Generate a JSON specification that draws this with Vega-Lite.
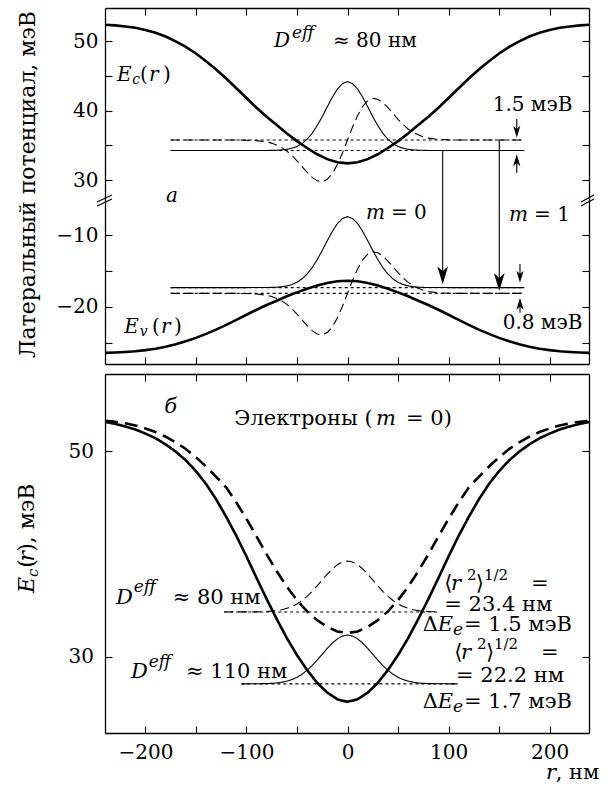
{
  "$schema": "https://vega.github.io/schema/vega-lite/v6.json",
  "padding": {"left": 15, "top": 7, "right": 5, "bottom": 5},
  "config": {
    "view": {"stroke": null},
    "axis": {"domainColor": "#000", "domainWidth": 1.3, "tickColor": "#000", "tickWidth": 1.1, "tickSize": -7, "labelFont": "DejaVu Serif", "labelFontSize": 20, "labelColor": "#000", "labelPadding": 14, "grid": false},
    "text": {"font": "DejaVu Serif", "color": "#000"}
  },
  "datasets": {
    "upper": [
      {"c":"Ec","r":-240,"v":52.35},{"c":"Ec","r":-230,"v":52.25},{"c":"Ec","r":-220,"v":52.1},{"c":"Ec","r":-210,"v":51.9},{"c":"Ec","r":-200,"v":51.6},{"c":"Ec","r":-190,"v":51.2},{"c":"Ec","r":-180,"v":50.65},{"c":"Ec","r":-170,"v":49.95},{"c":"Ec","r":-160,"v":49.15},{"c":"Ec","r":-150,"v":48.2},{"c":"Ec","r":-140,"v":47.1},{"c":"Ec","r":-130,"v":45.9},{"c":"Ec","r":-120,"v":44.6},{"c":"Ec","r":-110,"v":43.2},{"c":"Ec","r":-100,"v":41.8},{"c":"Ec","r":-90,"v":40.4},{"c":"Ec","r":-80,"v":39.1},{"c":"Ec","r":-70,"v":37.9},{"c":"Ec","r":-60,"v":36.7},{"c":"Ec","r":-50,"v":35.6},{"c":"Ec","r":-40,"v":34.6},{"c":"Ec","r":-30,"v":33.7},{"c":"Ec","r":-20,"v":33.0},{"c":"Ec","r":-10,"v":32.55},{"c":"Ec","r":0,"v":32.4},{"c":"Ec","r":10,"v":32.55},{"c":"Ec","r":20,"v":33.0},{"c":"Ec","r":30,"v":33.7},{"c":"Ec","r":40,"v":34.6},{"c":"Ec","r":50,"v":35.6},{"c":"Ec","r":60,"v":36.7},{"c":"Ec","r":70,"v":37.9},{"c":"Ec","r":80,"v":39.1},{"c":"Ec","r":90,"v":40.4},{"c":"Ec","r":100,"v":41.8},{"c":"Ec","r":110,"v":43.2},{"c":"Ec","r":120,"v":44.6},{"c":"Ec","r":130,"v":45.9},{"c":"Ec","r":140,"v":47.1},{"c":"Ec","r":150,"v":48.2},{"c":"Ec","r":160,"v":49.15},{"c":"Ec","r":170,"v":49.95},{"c":"Ec","r":180,"v":50.65},{"c":"Ec","r":190,"v":51.2},{"c":"Ec","r":200,"v":51.6},{"c":"Ec","r":210,"v":51.9},{"c":"Ec","r":220,"v":52.1},{"c":"Ec","r":230,"v":52.25},{"c":"Ec","r":240,"v":52.35},
      {"c":"psi_e0","r":-175,"v":34.25},{"c":"psi_e0","r":-80,"v":34.25},{"c":"psi_e0","r":-70,"v":34.29},{"c":"psi_e0","r":-65,"v":34.33},{"c":"psi_e0","r":-60,"v":34.42},{"c":"psi_e0","r":-55,"v":34.57},{"c":"psi_e0","r":-50,"v":34.83},{"c":"psi_e0","r":-45,"v":35.25},{"c":"psi_e0","r":-40,"v":35.86},{"c":"psi_e0","r":-35,"v":36.72},{"c":"psi_e0","r":-30,"v":37.82},{"c":"psi_e0","r":-25,"v":39.12},{"c":"psi_e0","r":-20,"v":40.54},{"c":"psi_e0","r":-15,"v":41.92},{"c":"psi_e0","r":-10,"v":43.09},{"c":"psi_e0","r":-5,"v":43.87},{"c":"psi_e0","r":0,"v":44.15},{"c":"psi_e0","r":5,"v":43.87},{"c":"psi_e0","r":10,"v":43.09},{"c":"psi_e0","r":15,"v":41.92},{"c":"psi_e0","r":20,"v":40.54},{"c":"psi_e0","r":25,"v":39.12},{"c":"psi_e0","r":30,"v":37.82},{"c":"psi_e0","r":35,"v":36.72},{"c":"psi_e0","r":40,"v":35.86},{"c":"psi_e0","r":45,"v":35.25},{"c":"psi_e0","r":50,"v":34.83},{"c":"psi_e0","r":55,"v":34.57},{"c":"psi_e0","r":60,"v":34.42},{"c":"psi_e0","r":65,"v":34.33},{"c":"psi_e0","r":70,"v":34.29},{"c":"psi_e0","r":80,"v":34.25},{"c":"psi_e0","r":175,"v":34.25},
      {"c":"psi_e1","r":-175,"v":35.75},{"c":"psi_e1","r":-110,"v":35.75},{"c":"psi_e1","r":-100,"v":35.73},{"c":"psi_e1","r":-90,"v":35.66},{"c":"psi_e1","r":-80,"v":35.48},{"c":"psi_e1","r":-75,"v":35.31},{"c":"psi_e1","r":-70,"v":35.0},{"c":"psi_e1","r":-65,"v":34.66},{"c":"psi_e1","r":-60,"v":34.16},{"c":"psi_e1","r":-55,"v":33.52},{"c":"psi_e1","r":-50,"v":32.76},{"c":"psi_e1","r":-45,"v":31.92},{"c":"psi_e1","r":-40,"v":31.09},{"c":"psi_e1","r":-35,"v":30.37},{"c":"psi_e1","r":-30,"v":29.88},{"c":"psi_e1","r":-25,"v":29.76},{"c":"psi_e1","r":-20,"v":30.09},{"c":"psi_e1","r":-15,"v":30.92},{"c":"psi_e1","r":-10,"v":32.22},{"c":"psi_e1","r":-5,"v":33.88},{"c":"psi_e1","r":0,"v":35.75},{"c":"psi_e1","r":5,"v":37.62},{"c":"psi_e1","r":10,"v":39.28},{"c":"psi_e1","r":15,"v":40.58},{"c":"psi_e1","r":20,"v":41.41},{"c":"psi_e1","r":25,"v":41.74},{"c":"psi_e1","r":30,"v":41.62},{"c":"psi_e1","r":35,"v":41.13},{"c":"psi_e1","r":40,"v":40.41},{"c":"psi_e1","r":45,"v":39.58},{"c":"psi_e1","r":50,"v":38.74},{"c":"psi_e1","r":55,"v":37.98},{"c":"psi_e1","r":60,"v":37.34},{"c":"psi_e1","r":65,"v":36.84},{"c":"psi_e1","r":70,"v":36.5},{"c":"psi_e1","r":75,"v":36.2},{"c":"psi_e1","r":80,"v":36.02},{"c":"psi_e1","r":90,"v":35.84},{"c":"psi_e1","r":100,"v":35.77},{"c":"psi_e1","r":110,"v":35.75},{"c":"psi_e1","r":175,"v":35.75},
      {"c":"lev_e0","r":-175,"v":34.25},{"c":"lev_e0","r":175,"v":34.25},
      {"c":"lev_e1","r":-175,"v":35.75},{"c":"lev_e1","r":175,"v":35.75},
      {"c":"tr_m0","r":94.2,"v":34.25},{"c":"tr_m0","r":94.2,"v":27.41},
      {"c":"tr_m1","r":150.2,"v":35.75},{"c":"tr_m1","r":150.2,"v":27.41},
      {"c":"gap_top","r":167.5,"v":38.78},{"c":"gap_top","r":167.5,"v":36.95},
      {"c":"gap_bot","r":167.5,"v":31.05},{"c":"gap_bot","r":167.5,"v":32.83}
    ],
    "lower": [
      {"c":"Ev","r":-240,"v":-26.4},{"c":"Ev","r":-230,"v":-26.35},{"c":"Ev","r":-220,"v":-26.27},{"c":"Ev","r":-210,"v":-26.17},{"c":"Ev","r":-200,"v":-26.02},{"c":"Ev","r":-190,"v":-25.82},{"c":"Ev","r":-180,"v":-25.54},{"c":"Ev","r":-170,"v":-25.19},{"c":"Ev","r":-160,"v":-24.79},{"c":"Ev","r":-150,"v":-24.31},{"c":"Ev","r":-140,"v":-23.75},{"c":"Ev","r":-130,"v":-23.15},{"c":"Ev","r":-120,"v":-22.49},{"c":"Ev","r":-110,"v":-21.79},{"c":"Ev","r":-100,"v":-21.08},{"c":"Ev","r":-90,"v":-20.38},{"c":"Ev","r":-80,"v":-19.72},{"c":"Ev","r":-70,"v":-19.12},{"c":"Ev","r":-60,"v":-18.51},{"c":"Ev","r":-50,"v":-17.96},{"c":"Ev","r":-40,"v":-17.45},{"c":"Ev","r":-30,"v":-17.0},{"c":"Ev","r":-20,"v":-16.65},{"c":"Ev","r":-10,"v":-16.42},{"c":"Ev","r":0,"v":-16.35},{"c":"Ev","r":10,"v":-16.42},{"c":"Ev","r":20,"v":-16.65},{"c":"Ev","r":30,"v":-17.0},{"c":"Ev","r":40,"v":-17.45},{"c":"Ev","r":50,"v":-17.96},{"c":"Ev","r":60,"v":-18.51},{"c":"Ev","r":70,"v":-19.12},{"c":"Ev","r":80,"v":-19.72},{"c":"Ev","r":90,"v":-20.38},{"c":"Ev","r":100,"v":-21.08},{"c":"Ev","r":110,"v":-21.79},{"c":"Ev","r":120,"v":-22.49},{"c":"Ev","r":130,"v":-23.15},{"c":"Ev","r":140,"v":-23.75},{"c":"Ev","r":150,"v":-24.31},{"c":"Ev","r":160,"v":-24.79},{"c":"Ev","r":170,"v":-25.19},{"c":"Ev","r":180,"v":-25.54},{"c":"Ev","r":190,"v":-25.82},{"c":"Ev","r":200,"v":-26.02},{"c":"Ev","r":210,"v":-26.17},{"c":"Ev","r":220,"v":-26.27},{"c":"Ev","r":230,"v":-26.35},{"c":"Ev","r":240,"v":-26.4},
      {"c":"psi_h0","r":-175,"v":-17.3},{"c":"psi_h0","r":-80,"v":-17.29},{"c":"psi_h0","r":-70,"v":-17.24},{"c":"psi_h0","r":-65,"v":-17.17},{"c":"psi_h0","r":-60,"v":-17.06},{"c":"psi_h0","r":-55,"v":-16.87},{"c":"psi_h0","r":-50,"v":-16.55},{"c":"psi_h0","r":-45,"v":-16.08},{"c":"psi_h0","r":-40,"v":-15.4},{"c":"psi_h0","r":-35,"v":-14.51},{"c":"psi_h0","r":-30,"v":-13.39},{"c":"psi_h0","r":-25,"v":-12.11},{"c":"psi_h0","r":-20,"v":-10.75},{"c":"psi_h0","r":-15,"v":-9.45},{"c":"psi_h0","r":-10,"v":-8.37},{"c":"psi_h0","r":-5,"v":-7.65},{"c":"psi_h0","r":0,"v":-7.4},{"c":"psi_h0","r":5,"v":-7.65},{"c":"psi_h0","r":10,"v":-8.37},{"c":"psi_h0","r":15,"v":-9.45},{"c":"psi_h0","r":20,"v":-10.75},{"c":"psi_h0","r":25,"v":-12.11},{"c":"psi_h0","r":30,"v":-13.39},{"c":"psi_h0","r":35,"v":-14.51},{"c":"psi_h0","r":40,"v":-15.4},{"c":"psi_h0","r":45,"v":-16.08},{"c":"psi_h0","r":50,"v":-16.55},{"c":"psi_h0","r":55,"v":-16.87},{"c":"psi_h0","r":60,"v":-17.06},{"c":"psi_h0","r":65,"v":-17.17},{"c":"psi_h0","r":70,"v":-17.24},{"c":"psi_h0","r":80,"v":-17.29},{"c":"psi_h0","r":175,"v":-17.3},
      {"c":"psi_h1","r":-175,"v":-18.1},{"c":"psi_h1","r":-110,"v":-18.1},{"c":"psi_h1","r":-100,"v":-18.12},{"c":"psi_h1","r":-90,"v":-18.18},{"c":"psi_h1","r":-80,"v":-18.36},{"c":"psi_h1","r":-75,"v":-18.53},{"c":"psi_h1","r":-70,"v":-18.82},{"c":"psi_h1","r":-65,"v":-19.15},{"c":"psi_h1","r":-60,"v":-19.64},{"c":"psi_h1","r":-55,"v":-20.26},{"c":"psi_h1","r":-50,"v":-20.99},{"c":"psi_h1","r":-45,"v":-21.8},{"c":"psi_h1","r":-40,"v":-22.61},{"c":"psi_h1","r":-35,"v":-23.3},{"c":"psi_h1","r":-30,"v":-23.77},{"c":"psi_h1","r":-25,"v":-23.89},{"c":"psi_h1","r":-20,"v":-23.57},{"c":"psi_h1","r":-15,"v":-22.77},{"c":"psi_h1","r":-10,"v":-21.52},{"c":"psi_h1","r":-5,"v":-19.91},{"c":"psi_h1","r":0,"v":-18.1},{"c":"psi_h1","r":5,"v":-16.3},{"c":"psi_h1","r":10,"v":-14.69},{"c":"psi_h1","r":15,"v":-13.43},{"c":"psi_h1","r":20,"v":-12.63},{"c":"psi_h1","r":25,"v":-12.31},{"c":"psi_h1","r":30,"v":-12.43},{"c":"psi_h1","r":35,"v":-12.9},{"c":"psi_h1","r":40,"v":-13.59},{"c":"psi_h1","r":45,"v":-14.4},{"c":"psi_h1","r":50,"v":-15.21},{"c":"psi_h1","r":55,"v":-15.94},{"c":"psi_h1","r":60,"v":-16.56},{"c":"psi_h1","r":65,"v":-17.05},{"c":"psi_h1","r":70,"v":-17.38},{"c":"psi_h1","r":75,"v":-17.67},{"c":"psi_h1","r":80,"v":-17.84},{"c":"psi_h1","r":90,"v":-18.02},{"c":"psi_h1","r":100,"v":-18.08},{"c":"psi_h1","r":110,"v":-18.1},{"c":"psi_h1","r":175,"v":-18.1},
      {"c":"lev_h0","r":-175,"v":-17.3},{"c":"lev_h0","r":175,"v":-17.3},
      {"c":"lev_h1","r":-175,"v":-18.1},{"c":"lev_h1","r":175,"v":-18.1},
      {"c":"tr_m0","r":94.2,"v":-4.8},{"c":"tr_m0","r":94.2,"v":-15.4},
      {"c":"tr_m1","r":150.2,"v":-4.8},{"c":"tr_m1","r":150.2,"v":-16.3},
      {"c":"gap_top","r":170.7,"v":-14.0},{"c":"gap_top","r":170.7,"v":-15.77},
      {"c":"gap_bot","r":170.7,"v":-20.79},{"c":"gap_bot","r":170.7,"v":-19.54}
    ],
    "bottom": [
      {"c":"Ec_110","r":-240,"v":52.85},{"c":"Ec_110","r":-230,"v":52.65},{"c":"Ec_110","r":-220,"v":52.4},{"c":"Ec_110","r":-210,"v":52.1},{"c":"Ec_110","r":-200,"v":51.7},{"c":"Ec_110","r":-190,"v":51.25},{"c":"Ec_110","r":-180,"v":50.65},{"c":"Ec_110","r":-170,"v":49.95},{"c":"Ec_110","r":-160,"v":49.1},{"c":"Ec_110","r":-150,"v":48.05},{"c":"Ec_110","r":-140,"v":46.8},{"c":"Ec_110","r":-130,"v":45.3},{"c":"Ec_110","r":-120,"v":43.6},{"c":"Ec_110","r":-110,"v":41.75},{"c":"Ec_110","r":-100,"v":39.75},{"c":"Ec_110","r":-90,"v":37.65},{"c":"Ec_110","r":-80,"v":35.6},{"c":"Ec_110","r":-70,"v":33.65},{"c":"Ec_110","r":-60,"v":31.8},{"c":"Ec_110","r":-50,"v":30.15},{"c":"Ec_110","r":-40,"v":28.7},{"c":"Ec_110","r":-30,"v":27.45},{"c":"Ec_110","r":-20,"v":26.5},{"c":"Ec_110","r":-10,"v":25.85},{"c":"Ec_110","r":0,"v":25.6},{"c":"Ec_110","r":10,"v":25.85},{"c":"Ec_110","r":20,"v":26.5},{"c":"Ec_110","r":30,"v":27.45},{"c":"Ec_110","r":40,"v":28.7},{"c":"Ec_110","r":50,"v":30.15},{"c":"Ec_110","r":60,"v":31.8},{"c":"Ec_110","r":70,"v":33.65},{"c":"Ec_110","r":80,"v":35.6},{"c":"Ec_110","r":90,"v":37.65},{"c":"Ec_110","r":100,"v":39.75},{"c":"Ec_110","r":110,"v":41.75},{"c":"Ec_110","r":120,"v":43.6},{"c":"Ec_110","r":130,"v":45.3},{"c":"Ec_110","r":140,"v":46.8},{"c":"Ec_110","r":150,"v":48.05},{"c":"Ec_110","r":160,"v":49.1},{"c":"Ec_110","r":170,"v":49.95},{"c":"Ec_110","r":180,"v":50.65},{"c":"Ec_110","r":190,"v":51.25},{"c":"Ec_110","r":200,"v":51.7},{"c":"Ec_110","r":210,"v":52.1},{"c":"Ec_110","r":220,"v":52.4},{"c":"Ec_110","r":230,"v":52.65},{"c":"Ec_110","r":240,"v":52.85},
      {"c":"Ec_80","r":-240,"v":52.95},{"c":"Ec_80","r":-230,"v":52.85},{"c":"Ec_80","r":-220,"v":52.7},{"c":"Ec_80","r":-210,"v":52.5},{"c":"Ec_80","r":-200,"v":52.2},{"c":"Ec_80","r":-190,"v":51.85},{"c":"Ec_80","r":-180,"v":51.4},{"c":"Ec_80","r":-170,"v":50.85},{"c":"Ec_80","r":-160,"v":50.2},{"c":"Ec_80","r":-150,"v":49.4},{"c":"Ec_80","r":-140,"v":48.5},{"c":"Ec_80","r":-130,"v":47.5},{"c":"Ec_80","r":-120,"v":46.45},{"c":"Ec_80","r":-110,"v":45.0},{"c":"Ec_80","r":-100,"v":43.4},{"c":"Ec_80","r":-90,"v":41.7},{"c":"Ec_80","r":-80,"v":39.95},{"c":"Ec_80","r":-70,"v":38.3},{"c":"Ec_80","r":-60,"v":36.8},{"c":"Ec_80","r":-50,"v":35.5},{"c":"Ec_80","r":-40,"v":34.4},{"c":"Ec_80","r":-30,"v":33.55},{"c":"Ec_80","r":-20,"v":32.9},{"c":"Ec_80","r":-10,"v":32.45},{"c":"Ec_80","r":0,"v":32.3},{"c":"Ec_80","r":10,"v":32.45},{"c":"Ec_80","r":20,"v":32.9},{"c":"Ec_80","r":30,"v":33.55},{"c":"Ec_80","r":40,"v":34.4},{"c":"Ec_80","r":50,"v":35.5},{"c":"Ec_80","r":60,"v":36.8},{"c":"Ec_80","r":70,"v":38.3},{"c":"Ec_80","r":80,"v":39.95},{"c":"Ec_80","r":90,"v":41.7},{"c":"Ec_80","r":100,"v":43.4},{"c":"Ec_80","r":110,"v":45.0},{"c":"Ec_80","r":120,"v":46.45},{"c":"Ec_80","r":130,"v":47.5},{"c":"Ec_80","r":140,"v":48.5},{"c":"Ec_80","r":150,"v":49.4},{"c":"Ec_80","r":160,"v":50.2},{"c":"Ec_80","r":170,"v":50.85},{"c":"Ec_80","r":180,"v":51.4},{"c":"Ec_80","r":190,"v":51.85},{"c":"Ec_80","r":200,"v":52.2},{"c":"Ec_80","r":210,"v":52.5},{"c":"Ec_80","r":220,"v":52.7},{"c":"Ec_80","r":230,"v":52.85},{"c":"Ec_80","r":240,"v":52.95},
      {"c":"psi_110","r":-105,"v":27.35},{"c":"psi_110","r":-90,"v":27.36},{"c":"psi_110","r":-80,"v":27.38},{"c":"psi_110","r":-75,"v":27.4},{"c":"psi_110","r":-70,"v":27.44},{"c":"psi_110","r":-65,"v":27.51},{"c":"psi_110","r":-60,"v":27.62},{"c":"psi_110","r":-55,"v":27.77},{"c":"psi_110","r":-50,"v":27.99},{"c":"psi_110","r":-45,"v":28.29},{"c":"psi_110","r":-40,"v":28.67},{"c":"psi_110","r":-35,"v":29.13},{"c":"psi_110","r":-30,"v":29.66},{"c":"psi_110","r":-25,"v":30.23},{"c":"psi_110","r":-20,"v":30.8},{"c":"psi_110","r":-15,"v":31.32},{"c":"psi_110","r":-10,"v":31.73},{"c":"psi_110","r":-5,"v":32.01},{"c":"psi_110","r":0,"v":32.1},{"c":"psi_110","r":5,"v":32.01},{"c":"psi_110","r":10,"v":31.73},{"c":"psi_110","r":15,"v":31.32},{"c":"psi_110","r":20,"v":30.8},{"c":"psi_110","r":25,"v":30.23},{"c":"psi_110","r":30,"v":29.66},{"c":"psi_110","r":35,"v":29.13},{"c":"psi_110","r":40,"v":28.67},{"c":"psi_110","r":45,"v":28.29},{"c":"psi_110","r":50,"v":27.99},{"c":"psi_110","r":55,"v":27.77},{"c":"psi_110","r":60,"v":27.62},{"c":"psi_110","r":65,"v":27.51},{"c":"psi_110","r":70,"v":27.44},{"c":"psi_110","r":75,"v":27.4},{"c":"psi_110","r":80,"v":27.38},{"c":"psi_110","r":90,"v":27.36},{"c":"psi_110","r":109,"v":27.35},
      {"c":"psi_80","r":-122,"v":34.35},{"c":"psi_80","r":-90,"v":34.36},{"c":"psi_80","r":-80,"v":34.39},{"c":"psi_80","r":-75,"v":34.43},{"c":"psi_80","r":-70,"v":34.48},{"c":"psi_80","r":-65,"v":34.57},{"c":"psi_80","r":-60,"v":34.7},{"c":"psi_80","r":-55,"v":34.88},{"c":"psi_80","r":-50,"v":35.13},{"c":"psi_80","r":-45,"v":35.46},{"c":"psi_80","r":-40,"v":35.87},{"c":"psi_80","r":-35,"v":36.35},{"c":"psi_80","r":-30,"v":36.89},{"c":"psi_80","r":-25,"v":37.47},{"c":"psi_80","r":-20,"v":38.03},{"c":"psi_80","r":-15,"v":38.54},{"c":"psi_80","r":-10,"v":38.95},{"c":"psi_80","r":-5,"v":39.21},{"c":"psi_80","r":0,"v":39.3},{"c":"psi_80","r":5,"v":39.21},{"c":"psi_80","r":10,"v":38.95},{"c":"psi_80","r":15,"v":38.54},{"c":"psi_80","r":20,"v":38.03},{"c":"psi_80","r":25,"v":37.47},{"c":"psi_80","r":30,"v":36.89},{"c":"psi_80","r":35,"v":36.35},{"c":"psi_80","r":40,"v":35.87},{"c":"psi_80","r":45,"v":35.46},{"c":"psi_80","r":50,"v":35.13},{"c":"psi_80","r":55,"v":34.88},{"c":"psi_80","r":60,"v":34.7},{"c":"psi_80","r":65,"v":34.57},{"c":"psi_80","r":70,"v":34.48},{"c":"psi_80","r":75,"v":34.43},{"c":"psi_80","r":80,"v":34.39},{"c":"psi_80","r":89.6,"v":34.36},
      {"c":"lev_110","r":-105,"v":27.35},{"c":"lev_110","r":109,"v":27.35},
      {"c":"lev_80","r":-122,"v":34.35},{"c":"lev_80","r":89.6,"v":34.35}
    ]
  },
  "spacing": 8,
  "vconcat": [
    {
      "spacing": 0,
      "bounds": "flush",
      "vconcat": [
        {
          "width": 484,
          "height": 190,
          "resolve": {"axis": {"x": "independent", "y": "independent"}},
          "layer": [
            {
              "data": {"name": "upper"},
              "transform": [{"filter": {"field": "c", "equal": "Ec"}}],
              "mark": {"type": "line", "color": "#000", "clip": true, "strokeWidth": 2.6},
              "encoding": {
                "x": {"field": "r", "type": "quantitative", "scale": {"domain": [-240, 239], "nice": false, "zero": false}, "axis": {"orient": "top", "values": [-200,-150,-100,-50,0,50,100,150,200], "labels": false, "title": null}},
                "y": {"field": "v", "type": "quantitative", "scale": {"domain": [27.41, 54.75], "nice": false, "zero": false}, "axis": {"orient": "left", "values": [30,35,40,45,50], "labelExpr": "datum.value % 10 === 0 ? datum.label : ''", "title": "Латеральный потенциал, мэВ", "titleFont": "DejaVu Serif", "titleFontSize": 22, "titleFontWeight": "normal", "titleColor": "#000", "titleAngle": 270, "titleX": -71, "titleY": 176, "titleAlign": "center", "titleBaseline": "alphabetic"}},
                "detail": {"field": "c", "type": "nominal"}
              }
            },
            {
              "data": {"name": "upper"},
              "transform": [{"filter": {"not": {"field": "c", "equal": "Ec"}}}],
              "mark": {"type": "line", "color": "#000", "clip": true, "strokeWidth": 1.1},
              "encoding": {
                "x": {"field": "r", "type": "quantitative", "scale": {"domain": [-240, 239], "nice": false, "zero": false}, "axis": null},
                "y": {"field": "v", "type": "quantitative", "scale": {"domain": [27.41, 54.75], "nice": false, "zero": false}, "axis": null},
                "detail": {"field": "c", "type": "nominal"},
                "strokeDash": {"field": "c", "type": "nominal", "legend": null, "scale": {"domain": ["Ec","Ev","psi_e0","psi_h0","psi_e1","psi_h1","lev_e0","lev_e1","lev_h0","lev_h1","tr_m0","tr_m1","gap_top","gap_bot","Ec_110","Ec_80","psi_110","psi_80","lev_110","lev_80"], "range": [[1,0],[1,0],[1,0],[1,0],[9,5],[9,5],[3,3],[3,3],[3,3],[3,3],[1,0],[1,0],[1,0],[1,0],[1,0],[13,7],[1,0],[9,5],[3,3],[3,3]]}}
              }
            },
            {
              "data": {"values": [
                {"r": 167.5, "v": 36.95, "d": "down", "s": "small"},
                {"r": 167.5, "v": 32.83, "d": "up", "s": "small"}
              ]},
              "mark": {"type": "point", "filled": true, "color": "#000", "opacity": 1, "strokeWidth": 0},
              "encoding": {
                "x": {"field": "r", "type": "quantitative", "scale": {"domain": [-240, 239], "nice": false, "zero": false}, "axis": null},
                "y": {"field": "v", "type": "quantitative", "scale": {"domain": [27.41, 54.75], "nice": false, "zero": false}, "axis": {"orient": "right", "values": [30,35,40,45,50], "labels": false, "title": null}},
                "shape": {"field": "d", "type": "nominal", "legend": null, "scale": {"domain": ["down","up"], "range": ["M0,1L-0.6,-1L0,-0.45L0.6,-1Z", "M0,-1L-0.6,1L0,0.45L0.6,1Z"]}},
                "size": {"field": "s", "type": "nominal", "legend": null, "scale": {"domain": ["large","small"], "range": [324,144]}}
              }
            },
            {
              "data": {"values": [
                {"r": -14.4, "v": 49.2, "t": "≈ 80 нм"},
                {"r": -205.4, "v": 44.24, "t": "("},
                {"r": -182.6, "v": 44.24, "t": ")"},
                {"r": 143.7, "v": 39.93, "t": "1.5 мэВ"}
              ]},
              "mark": {"type": "text", "align": "left", "baseline": "alphabetic", "fontSize": 20, "font": "DejaVu Serif"},
              "encoding": {
                "x": {"field": "r", "type": "quantitative", "scale": {"domain": [-240, 239], "nice": false, "zero": false}, "axis": null},
                "y": {"field": "v", "type": "quantitative", "scale": {"domain": [27.41, 54.75], "nice": false, "zero": false}, "axis": null},
                "text": {"field": "t"}
              }
            },
            {
              "data": {"values": [
                {"r": -72.7, "v": 49.2, "t": "D"},
                {"r": -228.1, "v": 44.24, "t": "E"},
                {"r": -196.5, "v": 44.24, "t": "r"}
              ]},
              "mark": {"type": "text", "align": "left", "baseline": "alphabetic", "fontSize": 20, "fontStyle": "italic", "font": "DejaVu Serif"},
              "encoding": {
                "x": {"field": "r", "type": "quantitative", "scale": {"domain": [-240, 239], "nice": false, "zero": false}, "axis": null},
                "y": {"field": "v", "type": "quantitative", "scale": {"domain": [27.41, 54.75], "nice": false, "zero": false}, "axis": null},
                "text": {"field": "t"}
              }
            },
            {
              "data": {"values": [
                {"r": -55.0, "v": 50.43, "t": "eff"}
              ]},
              "mark": {"type": "text", "align": "left", "baseline": "alphabetic", "fontSize": 17, "fontStyle": "italic", "font": "DejaVu Serif"},
              "encoding": {
                "x": {"field": "r", "type": "quantitative", "scale": {"domain": [-240, 239], "nice": false, "zero": false}, "axis": null},
                "y": {"field": "v", "type": "quantitative", "scale": {"domain": [27.41, 54.75], "nice": false, "zero": false}, "axis": null},
                "text": {"field": "t"}
              }
            },
            {
              "data": {"values": [
                {"r": -213.0, "v": 43.81, "t": "c"}
              ]},
              "mark": {"type": "text", "align": "left", "baseline": "alphabetic", "fontSize": 14, "fontStyle": "italic", "font": "DejaVu Serif"},
              "encoding": {
                "x": {"field": "r", "type": "quantitative", "scale": {"domain": [-240, 239], "nice": false, "zero": false}, "axis": null},
                "y": {"field": "v", "type": "quantitative", "scale": {"domain": [27.41, 54.75], "nice": false, "zero": false}, "axis": null},
                "text": {"field": "t"}
              }
            }
          ]
        },
        {
          "width": 484,
          "height": 166,
          "resolve": {"axis": {"x": "independent", "y": "independent"}},
          "layer": [
            {
              "data": {"name": "lower"},
              "transform": [{"filter": {"field": "c", "equal": "Ev"}}],
              "mark": {"type": "line", "color": "#000", "clip": true, "strokeWidth": 2.6},
              "encoding": {
                "x": {"field": "r", "type": "quantitative", "scale": {"domain": [-240, 239], "nice": false, "zero": false}, "axis": {"orient": "bottom", "values": [-200,-150,-100,-50,0,50,100,150,200], "labels": false, "title": null}},
                "y": {"field": "v", "type": "quantitative", "scale": {"domain": [-27.95, -4.8], "nice": false, "zero": false}, "axis": {"orient": "left", "values": [-25,-20,-15,-10], "labelExpr": "datum.value % 10 === 0 ? datum.label : ''", "title": null}},
                "detail": {"field": "c", "type": "nominal"}
              }
            },
            {
              "data": {"name": "lower"},
              "transform": [{"filter": {"not": {"field": "c", "equal": "Ev"}}}],
              "mark": {"type": "line", "color": "#000", "clip": true, "strokeWidth": 1.1},
              "encoding": {
                "x": {"field": "r", "type": "quantitative", "scale": {"domain": [-240, 239], "nice": false, "zero": false}, "axis": null},
                "y": {"field": "v", "type": "quantitative", "scale": {"domain": [-27.95, -4.8], "nice": false, "zero": false}, "axis": null},
                "detail": {"field": "c", "type": "nominal"},
                "strokeDash": {"field": "c", "type": "nominal", "legend": null, "scale": {"domain": ["Ec","Ev","psi_e0","psi_h0","psi_e1","psi_h1","lev_e0","lev_e1","lev_h0","lev_h1","tr_m0","tr_m1","gap_top","gap_bot","Ec_110","Ec_80","psi_110","psi_80","lev_110","lev_80"], "range": [[1,0],[1,0],[1,0],[1,0],[9,5],[9,5],[3,3],[3,3],[3,3],[3,3],[1,0],[1,0],[1,0],[1,0],[1,0],[13,7],[1,0],[9,5],[3,3],[3,3]]}}
              }
            },
            {
              "data": {"values": [
                {"r": 94.2, "v": -15.58, "d": "down", "s": "large"},
                {"r": 150.2, "v": -16.51, "d": "down", "s": "large"},
                {"r": 170.7, "v": -15.77, "d": "down", "s": "small"},
                {"r": 170.7, "v": -19.54, "d": "up", "s": "small"}
              ]},
              "mark": {"type": "point", "filled": true, "color": "#000", "opacity": 1, "strokeWidth": 0},
              "encoding": {
                "x": {"field": "r", "type": "quantitative", "scale": {"domain": [-240, 239], "nice": false, "zero": false}, "axis": null},
                "y": {"field": "v", "type": "quantitative", "scale": {"domain": [-27.95, -4.8], "nice": false, "zero": false}, "axis": {"orient": "right", "values": [-25,-20,-15,-10], "labels": false, "title": null}},
                "shape": {"field": "d", "type": "nominal", "legend": null, "scale": {"domain": ["down","up"], "range": ["M0,1L-0.6,-1L0,-0.45L0.6,-1Z", "M0,-1L-0.6,1L0,0.45L0.6,1Z"]}},
                "size": {"field": "s", "type": "nominal", "legend": null, "scale": {"domain": ["large","small"], "range": [324,144]}}
              }
            },
            {
              "data": {"values": [
                {"r": -247.9, "v": -5.36, "r2": -233.1, "v2": -4.38},
                {"r": -247.9, "v": -5.91, "r2": -233.1, "v2": -4.94},
                {"r": 231.1, "v": -5.36, "r2": 244.0, "v2": -4.38},
                {"r": 231.1, "v": -5.91, "r2": 244.0, "v2": -4.94}
              ]},
              "mark": {"type": "rule", "color": "#000", "strokeWidth": 1.1},
              "encoding": {
                "x": {"field": "r", "type": "quantitative", "scale": {"domain": [-240, 239], "nice": false, "zero": false}, "axis": null},
                "y": {"field": "v", "type": "quantitative", "scale": {"domain": [-27.95, -4.8], "nice": false, "zero": false}, "axis": null},
                "x2": {"field": "r2"},
                "y2": {"field": "v2"}
              }
            },
            {
              "data": {"values": [
                {"r": 43.0, "v": -7.73, "t": "= 0"},
                {"r": 184.6, "v": -8.01, "t": "= 1"},
                {"r": 153.6, "v": -23.11, "t": "0.8 мэВ"},
                {"r": -193.5, "v": -23.58, "t": "("},
                {"r": -171.7, "v": -23.58, "t": ")"}
              ]},
              "mark": {"type": "text", "align": "left", "baseline": "alphabetic", "fontSize": 20, "font": "DejaVu Serif"},
              "encoding": {
                "x": {"field": "r", "type": "quantitative", "scale": {"domain": [-240, 239], "nice": false, "zero": false}, "axis": null},
                "y": {"field": "v", "type": "quantitative", "scale": {"domain": [-27.95, -4.8], "nice": false, "zero": false}, "axis": null},
                "text": {"field": "t"}
              }
            },
            {
              "data": {"values": [
                {"r": -179.6, "v": -5.36, "t": "а"},
                {"r": 18.3, "v": -7.73, "t": "m"},
                {"r": 159.8, "v": -8.01, "t": "m"},
                {"r": -220.9, "v": -23.58, "t": "E"},
                {"r": -184.6, "v": -23.58, "t": "r"}
              ]},
              "mark": {"type": "text", "align": "left", "baseline": "alphabetic", "fontSize": 20, "fontStyle": "italic", "font": "DejaVu Serif"},
              "encoding": {
                "x": {"field": "r", "type": "quantitative", "scale": {"domain": [-240, 239], "nice": false, "zero": false}, "axis": null},
                "y": {"field": "v", "type": "quantitative", "scale": {"domain": [-27.95, -4.8], "nice": false, "zero": false}, "axis": null},
                "text": {"field": "t"}
              }
            },
            {
              "data": {"values": [
                {"r": -205.5, "v": -24.04, "t": "v"}
              ]},
              "mark": {"type": "text", "align": "left", "baseline": "alphabetic", "fontSize": 14, "fontStyle": "italic", "font": "DejaVu Serif"},
              "encoding": {
                "x": {"field": "r", "type": "quantitative", "scale": {"domain": [-240, 239], "nice": false, "zero": false}, "axis": null},
                "y": {"field": "v", "type": "quantitative", "scale": {"domain": [-27.95, -4.8], "nice": false, "zero": false}, "axis": null},
                "text": {"field": "t"}
              }
            }
          ]
        }
      ]
    },
    {
      "width": 484,
      "height": 359,
      "resolve": {"axis": {"x": "independent", "y": "independent"}},
      "layer": [
        {
          "data": {"name": "bottom"},
          "transform": [{"filter": {"field": "c", "oneOf": ["Ec_110", "Ec_80"]}}],
          "mark": {"type": "line", "color": "#000", "clip": true, "strokeWidth": 2.6},
          "encoding": {
            "x": {"field": "r", "type": "quantitative", "scale": {"domain": [-240, 239], "nice": false, "zero": false}, "axis": {"orient": "bottom", "values": [-200,-150,-100,-50,0,50,100,150,200], "labelExpr": "datum.value % 100 === 0 ? datum.label : ''", "labelPadding": 16.5, "title": null}},
            "y": {"field": "v", "type": "quantitative", "scale": {"domain": [22.57, 57.5], "nice": false, "zero": false}, "axis": {"orient": "left", "values": [30, 50], "labelPadding": 18.5, "title": null}},
            "detail": {"field": "c", "type": "nominal"},
            "strokeDash": {"field": "c", "type": "nominal", "legend": null, "scale": {"domain": ["Ec","Ev","psi_e0","psi_h0","psi_e1","psi_h1","lev_e0","lev_e1","lev_h0","lev_h1","tr_m0","tr_m1","gap_top","gap_bot","Ec_110","Ec_80","psi_110","psi_80","lev_110","lev_80"], "range": [[1,0],[1,0],[1,0],[1,0],[9,5],[9,5],[3,3],[3,3],[3,3],[3,3],[1,0],[1,0],[1,0],[1,0],[1,0],[13,7],[1,0],[9,5],[3,3],[3,3]]}}
          }
        },
        {
          "data": {"name": "bottom"},
          "transform": [{"filter": {"field": "c", "oneOf": ["psi_110", "psi_80", "lev_110", "lev_80"]}}],
          "mark": {"type": "line", "color": "#000", "clip": true, "strokeWidth": 1.1},
          "encoding": {
            "x": {"field": "r", "type": "quantitative", "scale": {"domain": [-240, 239], "nice": false, "zero": false}, "axis": null},
            "y": {"field": "v", "type": "quantitative", "scale": {"domain": [22.57, 57.5], "nice": false, "zero": false}, "axis": null},
            "detail": {"field": "c", "type": "nominal"},
            "strokeDash": {"field": "c", "type": "nominal", "legend": null, "scale": {"domain": ["Ec","Ev","psi_e0","psi_h0","psi_e1","psi_h1","lev_e0","lev_e1","lev_h0","lev_h1","tr_m0","tr_m1","gap_top","gap_bot","Ec_110","Ec_80","psi_110","psi_80","lev_110","lev_80"], "range": [[1,0],[1,0],[1,0],[1,0],[9,5],[9,5],[3,3],[3,3],[3,3],[3,3],[1,0],[1,0],[1,0],[1,0],[1,0],[13,7],[1,0],[9,5],[3,3],[3,3]]}}
          }
        },
        {
          "data": {"values": [
            {"r": -112.0, "v": 52.53, "t": "Электроны ("},
            {"r": 57.9, "v": 52.53, "t": "= 0)"},
            {"r": -173.0, "v": 35.16, "t": "≈ 80 нм"},
            {"r": -159.8, "v": 27.93, "t": "≈ 110 нм"},
            {"r": 95.8, "v": 36.5, "t": "⟨"},
            {"r": 127.0, "v": 36.5, "t": "⟩"},
            {"r": 181.6, "v": 36.5, "t": "="},
            {"r": 95.8, "v": 34.45, "t": "= 23.4 нм"},
            {"r": 74.4, "v": 32.47, "t": "Δ"},
            {"r": 115.3, "v": 32.47, "t": "= 1.5 мэВ"},
            {"r": 105.7, "v": 29.78, "t": "⟨"},
            {"r": 137.0, "v": 29.78, "t": "⟩"},
            {"r": 191.5, "v": 29.78, "t": "="},
            {"r": 107.4, "v": 27.54, "t": "= 22.2 нм"},
            {"r": 74.4, "v": 25.0, "t": "Δ"},
            {"r": 115.3, "v": 25.0, "t": "= 1.7 мэВ"},
            {"r": 206.0, "v": 18.09, "t": ", нм"}
          ]},
          "mark": {"type": "text", "align": "left", "baseline": "alphabetic", "fontSize": 21, "font": "DejaVu Serif"},
          "encoding": {
            "x": {"field": "r", "type": "quantitative", "scale": {"domain": [-240, 239], "nice": false, "zero": false}, "axis": {"orient": "top", "values": [-200,-150,-100,-50,0,50,100,150,200], "labels": false, "title": null}},
            "y": {"field": "v", "type": "quantitative", "scale": {"domain": [22.57, 57.5], "nice": false, "zero": false}, "axis": {"orient": "right", "values": [30, 50], "labels": false, "title": null}},
            "text": {"field": "t"}
          }
        },
        {
          "data": {"values": [
            {"r": -181.3, "v": 53.66, "t": "б"},
            {"r": 28.2, "v": 52.53, "t": "m"},
            {"r": -229.1, "v": 35.16, "t": "D"},
            {"r": -214.3, "v": 27.93, "t": "D"},
            {"r": 102.4, "v": 36.5, "t": "r"},
            {"r": 112.3, "v": 29.78, "t": "r"},
            {"r": 89.3, "v": 32.47, "t": "E"},
            {"r": 89.3, "v": 25.0, "t": "E"},
            {"r": 196.4, "v": 18.09, "t": "r"}
          ]},
          "mark": {"type": "text", "align": "left", "baseline": "alphabetic", "fontSize": 21, "fontStyle": "italic", "font": "DejaVu Serif"},
          "encoding": {
            "x": {"field": "r", "type": "quantitative", "scale": {"domain": [-240, 239], "nice": false, "zero": false}, "axis": null},
            "y": {"field": "v", "type": "quantitative", "scale": {"domain": [22.57, 57.5], "nice": false, "zero": false}, "axis": null},
            "text": {"field": "t"}
          }
        },
        {
          "data": {"values": [
            {"r": -211.6, "v": 36.3, "t": "eff"},
            {"r": -196.8, "v": 29.0, "t": "eff"},
            {"r": 104.4, "v": 32.11, "t": "e"},
            {"r": 104.4, "v": 24.66, "t": "e"}
          ]},
          "mark": {"type": "text", "align": "left", "baseline": "alphabetic", "fontSize": 17, "fontStyle": "italic", "font": "DejaVu Serif"},
          "encoding": {
            "x": {"field": "r", "type": "quantitative", "scale": {"domain": [-240, 239], "nice": false, "zero": false}, "axis": null},
            "y": {"field": "v", "type": "quantitative", "scale": {"domain": [22.57, 57.5], "nice": false, "zero": false}, "axis": null},
            "text": {"field": "t"}
          }
        },
        {
          "data": {"values": [
            {"r": 118.3, "v": 37.47, "t": "2"},
            {"r": 135.1, "v": 37.47, "t": "1/2"},
            {"r": 128.2, "v": 30.75, "t": "2"},
            {"r": 145.0, "v": 30.75, "t": "1/2"}
          ]},
          "mark": {"type": "text", "align": "left", "baseline": "alphabetic", "fontSize": 15, "font": "DejaVu Serif"},
          "encoding": {
            "x": {"field": "r", "type": "quantitative", "scale": {"domain": [-240, 239], "nice": false, "zero": false}, "axis": null},
            "y": {"field": "v", "type": "quantitative", "scale": {"domain": [22.57, 57.5], "nice": false, "zero": false}, "axis": null},
            "text": {"field": "t"}
          }
        },
        {
          "data": {"values": [
            {"r": -309.8, "v": 36.2, "t": "E"},
            {"r": -309.8, "v": 39.26, "t": "r"}
          ]},
          "mark": {"type": "text", "align": "left", "baseline": "alphabetic", "fontSize": 22, "fontStyle": "italic", "font": "DejaVu Serif", "angle": 270},
          "encoding": {
            "x": {"field": "r", "type": "quantitative", "scale": {"domain": [-240, 239], "nice": false, "zero": false}, "axis": null},
            "y": {"field": "v", "type": "quantitative", "scale": {"domain": [22.57, 57.5], "nice": false, "zero": false}, "axis": null},
            "text": {"field": "t"}
          }
        },
        {
          "data": {"values": [
            {"r": -306.8, "v": 37.76, "t": "c"}
          ]},
          "mark": {"type": "text", "align": "left", "baseline": "alphabetic", "fontSize": 15, "fontStyle": "italic", "font": "DejaVu Serif", "angle": 270},
          "encoding": {
            "x": {"field": "r", "type": "quantitative", "scale": {"domain": [-240, 239], "nice": false, "zero": false}, "axis": null},
            "y": {"field": "v", "type": "quantitative", "scale": {"domain": [22.57, 57.5], "nice": false, "zero": false}, "axis": null},
            "text": {"field": "t"}
          }
        },
        {
          "data": {"values": [
            {"r": -309.8, "v": 38.64, "t": "("},
            {"r": -309.8, "v": 40.2, "t": "), мэВ"}
          ]},
          "mark": {"type": "text", "align": "left", "baseline": "alphabetic", "fontSize": 22, "font": "DejaVu Serif", "angle": 270},
          "encoding": {
            "x": {"field": "r", "type": "quantitative", "scale": {"domain": [-240, 239], "nice": false, "zero": false}, "axis": null},
            "y": {"field": "v", "type": "quantitative", "scale": {"domain": [22.57, 57.5], "nice": false, "zero": false}, "axis": null},
            "text": {"field": "t"}
          }
        }
      ]
    }
  ]
}
